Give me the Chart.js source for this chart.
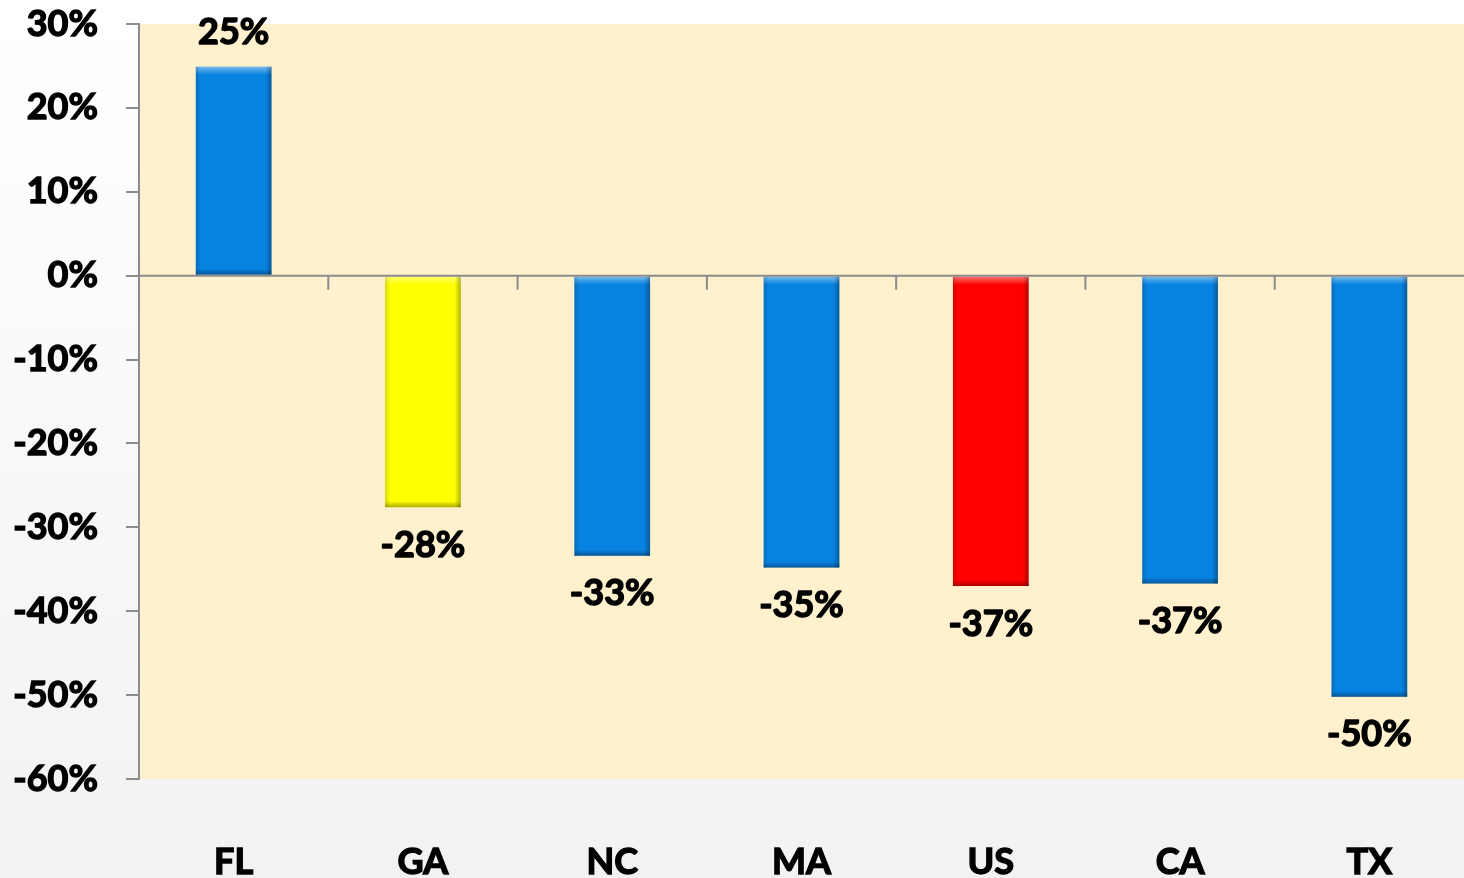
<!DOCTYPE html>
<html>
<head>
<meta charset="utf-8">
<script src="https://cdn.jsdelivr.net/npm/chart.js@4/dist/chart.umd.min.js"></script>
<style>
  html, body { margin: 0; padding: 0; background: #ffffff; }
  #wrap { width: 1464px; height: 878px; }
</style>
</head>
<body>
<div id="wrap"><canvas id="c" width="1464" height="878"></canvas></div>
<script>
const categories = ['FL', 'GA', 'NC', 'MA', 'US', 'CA', 'TX'];
const values = [24.9, -27.6, -33.4, -34.8, -37.0, -36.7, -50.2];
const barColors = ['#0782E1', '#FFFF00', '#0782E1', '#0782E1', '#FF0000', '#0782E1', '#0782E1'];
const yTicks = [30, 20, 10, 0, -10, -20, -30, -40, -50, -60];

const FONT = 'Lato, "Open Sans", sans-serif';
const WEIGHT = 'bold';
const AXIS_GRAY = '#8c8c8c';
const STROKE = 1.4;

const backgroundPlugin = {
  id: 'bg',
  beforeDraw(chart) {
    const { ctx, width, height, chartArea: a } = chart;
    ctx.save();
    const g = ctx.createLinearGradient(0, 0, 0, height);
    g.addColorStop(0, '#ffffff');
    g.addColorStop(1, '#f2f2f2');
    ctx.fillStyle = g;
    ctx.fillRect(0, 0, width, height);
    ctx.fillStyle = '#FFF1CE';
    ctx.fillRect(a.left, a.top, a.right - a.left, a.bottom - a.top);
    ctx.restore();
  }
};

const bevelPlugin = {
  id: 'bevel',
  afterDatasetsDraw(chart) {
    const { ctx } = chart;
    const meta = chart.getDatasetMeta(0);
    ctx.save();
    meta.data.forEach((bar) => {
      const p = bar.getProps(['x', 'y', 'base', 'width'], true);
      const l = p.x - p.width / 2, r = p.x + p.width / 2;
      const t = Math.min(p.y, p.base), b = Math.max(p.y, p.base);
      let g;
      g = ctx.createLinearGradient(0, t, 0, t + 8);
      g.addColorStop(0, 'rgba(255,255,255,0.45)');
      g.addColorStop(1, 'rgba(255,255,255,0)');
      ctx.fillStyle = g; ctx.fillRect(l, t, r - l, 8);
      g = ctx.createLinearGradient(0, b, 0, b - 6);
      g.addColorStop(0, 'rgba(0,0,0,0.32)');
      g.addColorStop(1, 'rgba(0,0,0,0)');
      ctx.fillStyle = g; ctx.fillRect(l, b - 6, r - l, 6);
      g = ctx.createLinearGradient(r, 0, r - 6, 0);
      g.addColorStop(0, 'rgba(0,0,0,0.30)');
      g.addColorStop(1, 'rgba(0,0,0,0)');
      ctx.fillStyle = g; ctx.fillRect(r - 6, t, 6, b - t);
      g = ctx.createLinearGradient(l, 0, l + 5, 0);
      g.addColorStop(0, 'rgba(0,0,0,0.15)');
      g.addColorStop(1, 'rgba(0,0,0,0)');
      ctx.fillStyle = g; ctx.fillRect(l, t, 5, b - t);
    });
    ctx.restore();
  }
};

const zeroTicksPlugin = {
  id: 'zeroTicks',
  afterDatasetsDraw(chart) {
    const { ctx, scales: { x, y } } = chart;
    const y0 = y.getPixelForValue(0);
    ctx.save();
    ctx.strokeStyle = AXIS_GRAY;
    ctx.lineWidth = 2;
    ctx.beginPath();
    ctx.moveTo(chart.chartArea.left, y0);
    ctx.lineTo(chart.chartArea.right, y0);
    for (let i = 1; i < categories.length; i++) {
      const xb = (x.getPixelForValue(i - 1) + x.getPixelForValue(i)) / 2;
      ctx.moveTo(xb, y0);
      ctx.lineTo(xb, y0 + 14);
    }
    ctx.stroke();
    ctx.restore();
  }
};

const labelPlugin = {
  id: 'valueLabels',
  afterDatasetsDraw(chart) {
    const { ctx } = chart;
    const meta = chart.getDatasetMeta(0);
    ctx.save();
    ctx.font = WEIGHT + ' 36px ' + FONT;
    ctx.fillStyle = '#000000';
    ctx.strokeStyle = '#000000';
    ctx.lineWidth = STROKE;
    ctx.lineJoin = 'round';
    ctx.textAlign = 'center';
    ctx.textBaseline = 'middle';
    meta.data.forEach((bar, i) => {
      const v = values[i];
      const p = bar.getProps(['x', 'y'], true);
      const yy = v >= 0 ? p.y - 34 : p.y + 38;
      const txt = Math.round(v) + '%';
      ctx.strokeText(txt, p.x, yy);
      ctx.fillText(txt, p.x, yy);
    });
    ctx.restore();
  }
};

new Chart(document.getElementById('c'), {
  type: 'bar',
  data: {
    labels: categories,
    datasets: [{
      data: values,
      backgroundColor: barColors,
      borderWidth: 0,
      barPercentage: 0.4,
      categoryPercentage: 1.0
    }]
  },
  options: {
    responsive: false,
    devicePixelRatio: 1,
    animation: false,
    layout: { padding: { left: 0, right: 0, top: 24, bottom: 0 } },
    plugins: { legend: { display: false }, tooltip: { enabled: false } },
    scales: {
      x: {
        grid: { display: false },
        border: { display: false },
        ticks: {
          color: '#000000',
          textStrokeColor: '#000000',
          textStrokeWidth: STROKE,
          font: { family: FONT, size: 36, weight: WEIGHT },
          padding: 54,
          maxRotation: 0
        },
        afterFit(s) { s.height = 99; s.paddingLeft = 0; s.paddingRight = 0; }
      },
      y: {
        min: -60,
        max: 30,
        afterBuildTicks(s) { s.ticks = yTicks.map(v => ({ value: v })); },
        grid: { drawOnChartArea: false, tickLength: 13, color: AXIS_GRAY, lineWidth: 2 },
        border: { color: AXIS_GRAY, width: 2 },
        ticks: {
          color: '#000000',
          textStrokeColor: '#000000',
          textStrokeWidth: STROKE,
          font: { family: FONT, size: 36, weight: WEIGHT },
          padding: 28,
          callback: v => v + '%'
        },
        afterFit(s) { s.width = 139; s.paddingTop = 0; s.paddingBottom = 0; }
      }
    }
  },
  plugins: [backgroundPlugin, bevelPlugin, zeroTicksPlugin, labelPlugin]
});
</script>
</body>
</html>
